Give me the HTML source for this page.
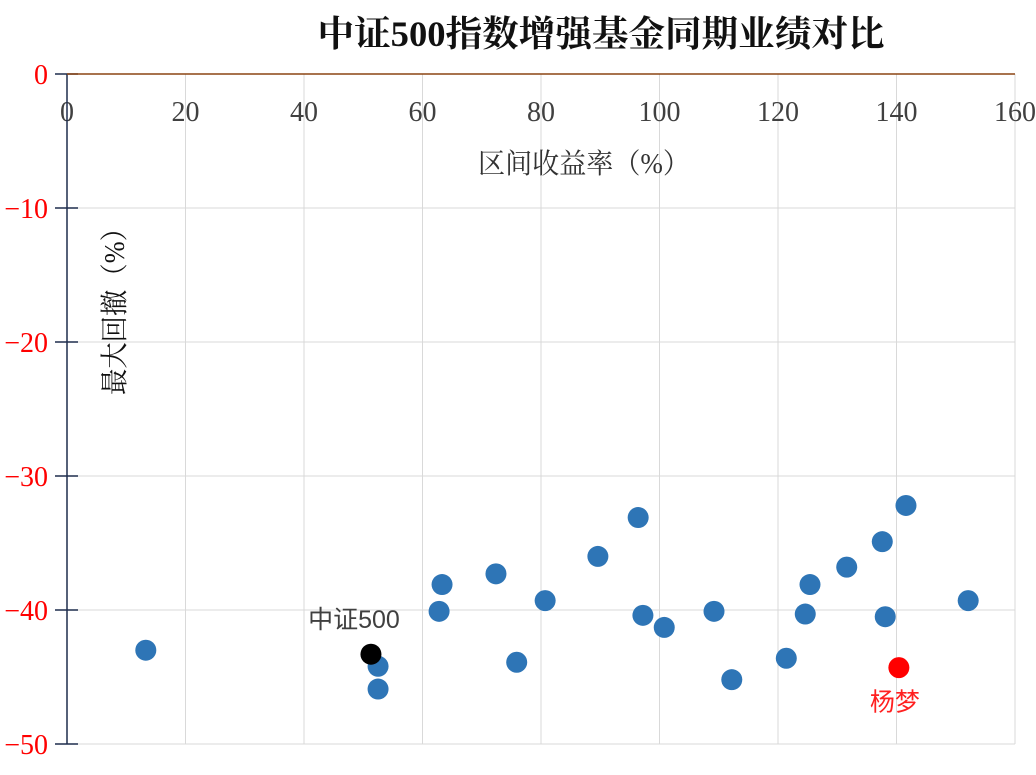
<!DOCTYPE html>
<html><head><meta charset="utf-8"><style>
body{margin:0;background:#fff;width:1036px;height:775px;overflow:hidden}
svg{display:block}
</style></head><body>
<svg id="chart" width="1036" height="775" xmlns="http://www.w3.org/2000/svg" font-family="'Liberation Serif','Noto Serif CJK SC',serif">
<text x="601" y="46" text-anchor="middle" font-size="36" font-weight="bold" fill="#111" textLength="567" lengthAdjust="spacingAndGlyphs">中证500指数增强基金同期业绩对比</text>
<g id="grid"></g><g id="axes"></g><g id="pts"></g>
<text x="584" y="173" text-anchor="middle" font-size="28" fill="#333" textLength="212" lengthAdjust="spacingAndGlyphs">区间收益率（%）</text>
<text transform="translate(124,305) rotate(-90)" text-anchor="middle" font-size="28" fill="#111" textLength="180" lengthAdjust="spacingAndGlyphs">最大回撤（%）</text>
</svg>
<script>
const xTicks=[0,20,40,60,80,100,120,140,160];
const yTicks=[0,-10,-20,-30,-40,-50];
const fundX=[13.3,52.5,52.5,62.8,63.3,72.4,75.9,80.7,89.6,96.4,97.2,100.8,109.2,112.2,121.4,124.6,125.4,131.6,137.6,138.1,141.6,152.1];
const fundY=[-43.0,-44.2,-45.9,-40.1,-38.1,-37.3,-43.9,-39.3,-36.0,-33.1,-40.4,-41.3,-40.1,-45.2,-43.6,-40.3,-38.1,-36.8,-34.9,-40.5,-32.2,-39.3];
const indexPt=[51.3,-43.3];
const yangPt=[140.4,-44.3];
const NS='http://www.w3.org/2000/svg';
const sx=v=>67+v*(1015-67)/160;
const sy=v=>74+(-v)*(744-74)/50;
function mk(p,t,a){const e=document.createElementNS(NS,t);for(const k in a)e.setAttribute(k,a[k]);p.appendChild(e);return e;}
const grid=document.getElementById('grid'),axes=document.getElementById('axes'),pts=document.getElementById('pts');
xTicks.forEach(v=>{if(v>0){const l=mk(grid,'line',{x1:sx(v),x2:sx(v),y1:74,y2:744,stroke:'#d9d9d9'});

}
const t=mk(axes,'text',{x:sx(v),y:121,'text-anchor':'middle','font-size':28,fill:'#404040'});t.textContent=v;

});
yTicks.forEach(v=>{if(v<0){const l=mk(grid,'line',{x1:67,x2:1015,y1:sy(v),y2:sy(v),stroke:'#d9d9d9'});

}
mk(axes,'line',{x1:55,x2:78,y1:sy(v),y2:sy(v),stroke:'#1f2d4d','stroke-width':1.5});
const t=mk(axes,'text',{x:48,y:sy(v)+10,'text-anchor':'end','font-size':28,fill:'#ff0000'});t.textContent=(v<0?'−'+(-v):v);

});
const ya=mk(axes,'line',{x1:67,x2:67,y1:74,y2:744,stroke:'#1f2d4d','stroke-width':1.5});


const xa=mk(axes,'line',{x1:67,x2:1015,y1:74,y2:74,stroke:'#8b4513','stroke-width':1.5});


fundX.forEach((x,i)=>{const c=mk(pts,'circle',{cx:sx(x),cy:sy(fundY[i]),r:10.5,fill:'#2e75b6'});

});
const ip=mk(pts,'circle',{cx:sx(indexPt[0]),cy:sy(indexPt[1]),r:10.5,fill:'#000'});


const il=mk(pts,'text',{x:sx(indexPt[0])-17,y:sy(indexPt[1])-26,'text-anchor':'middle','font-size':25,fill:'#404040','font-family':"'Liberation Sans','Noto Sans CJK SC',sans-serif"});il.textContent='中证500';


const yp=mk(pts,'circle',{cx:sx(yangPt[0]),cy:sy(yangPt[1]),r:10.5,fill:'#ff0000'});


const yl=mk(pts,'text',{x:sx(yangPt[0])-4,y:sy(yangPt[1])+43,'text-anchor':'middle','font-size':25,fill:'#ff2020','font-family':"'Liberation Sans','Noto Sans CJK SC',sans-serif"});yl.textContent='杨梦';


</script>
</body></html>
